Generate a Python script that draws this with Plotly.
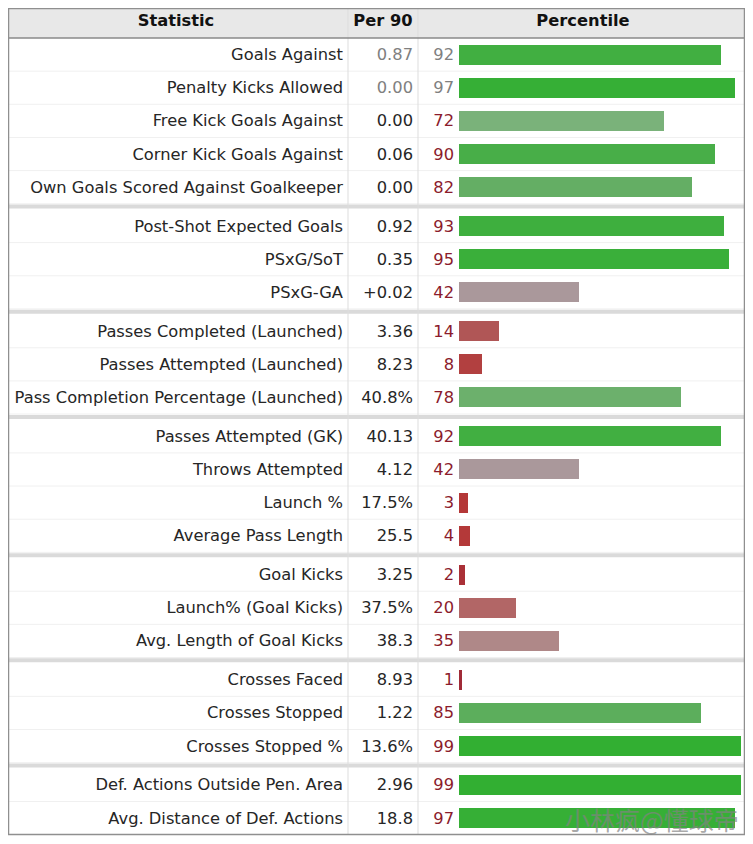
import plotly.graph_objects as go

# scouting report rows (goalkeeper), per 90 values and percentile ranks
stats = [
    "Goals Against", "Penalty Kicks Allowed", "Free Kick Goals Against",
    "Corner Kick Goals Against", "Own Goals Scored Against Goalkeeper",
    "Post-Shot Expected Goals", "PSxG/SoT", "PSxG-GA",
    "Passes Completed (Launched)", "Passes Attempted (Launched)",
    "Pass Completion Percentage (Launched)",
    "Passes Attempted (GK)", "Throws Attempted", "Launch %", "Average Pass Length",
    "Goal Kicks", "Launch% (Goal Kicks)", "Avg. Length of Goal Kicks",
    "Crosses Faced", "Crosses Stopped", "Crosses Stopped %",
    "Def. Actions Outside Pen. Area", "Avg. Distance of Def. Actions",
]
per90 = [
    "0.87", "0.00", "0.00", "0.06", "0.00",
    "0.92", "0.35", "+0.02",
    "3.36", "8.23", "40.8%",
    "40.13", "4.12", "17.5%", "25.5",
    "3.25", "37.5%", "38.3",
    "8.93", "1.22", "13.6%",
    "2.96", "18.8",
]
percentile = [
    92, 97, 72, 90, 82,
    93, 95, 42,
    14, 8, 78,
    92, 42, 3, 4,
    2, 20, 35,
    1, 85, 99,
    99, 97,
]
group_sizes = [5, 3, 3, 4, 3, 3, 2]
headers = ["Statistic", "Per 90", "Percentile"]

W, H = 753, 844
OFF = 8  # page body margin, so axis units are screen pixels
FONT = "DejaVu Sans"
FS = 16.3
top, head_h, row_h, gap = 8.5, 29.5, 33.15, 5.7
left, right = 8.5, 744.5
col1, col2 = 348, 418
bar_x0, bar_x100 = 459, 743.6
muted = {0, 1}  # rows shown greyed out

# row centre positions
ys = []
y = top + head_h
for g, n in enumerate(group_sizes):
    if g > 0:
        y += gap
    for i in range(n):
        ys.append(y + row_h / 2)
        y += row_h
bottom = min(y, H - OFF - 1.5)
ty = [v + 1.5 for v in ys]

shapes = []
# header background
shapes.append(dict(type="rect", xref="x", yref="y", x0=left, x1=right, y0=top, y1=top + head_h,
                   fillcolor="#e8e8e8", line=dict(width=0), layer="below"))
# thin row lines
for yc in ys[:-1]:
    shapes.append(dict(type="line", xref="x", yref="y", x0=left, x1=right,
                       y0=yc + row_h / 2, y1=yc + row_h / 2, line=dict(color="#f0f0f0", width=1), layer="below"))
# group separators
idx = 0
for n in group_sizes[:-1]:
    idx += n
    ysep = ys[idx - 1] + row_h / 2 + gap / 2
    shapes.append(dict(type="line", xref="x", yref="y", x0=left, x1=right, y0=ysep, y1=ysep,
                       line=dict(color="#dadada", width=4), layer="below"))
# column dividers
for cx in (col1, col2):
    shapes.append(dict(type="line", xref="x", yref="y", x0=cx, x1=cx, y0=top, y1=bottom,
                       line=dict(color="#dddddd", width=1), layer="below"))
# header bottom and outer border
shapes.append(dict(type="line", xref="x", yref="y", x0=left, x1=right, y0=top + head_h, y1=top + head_h,
                   line=dict(color="#8a8a8a", width=1.5)))
shapes.append(dict(type="rect", xref="x", yref="y", x0=left, x1=right, y0=top, y1=bottom,
                   line=dict(color="#8f8f8f", width=1.5)))

fig = go.Figure()

# percentile bars
fig.add_trace(go.Bar(
    x=percentile, y=ys, orientation="h", width=20, xaxis="x2", yaxis="y",
    marker=dict(
        color=percentile, cmin=0, cmax=100, line=dict(width=0),
        colorscale=[
            [0.00, "rgb(150,35,55)"],
            [0.03, "rgb(180,55,55)"],
            [0.08, "rgb(178,64,64)"],
            [0.14, "rgb(176,86,86)"],
            [0.20, "rgb(178,102,102)"],
            [0.35, "rgb(175,136,136)"],
            [0.42, "rgb(170,152,155)"],
            [0.55, "rgb(150,165,150)"],
            [0.72, "rgb(122,178,122)"],
            [0.78, "rgb(108,176,108)"],
            [0.82, "rgb(100,174,100)"],
            [0.85, "rgb(92,174,92)"],
            [0.90, "rgb(72,174,72)"],
            [0.93, "rgb(62,175,62)"],
            [1.00, "rgb(48,175,48)"],
        ],
    ),
    hoverinfo="skip", showlegend=False,
))

dark = "#262626"
grey = "#808080"
red = "#8b1c2c"

fig.add_trace(go.Scatter(
    x=[col1 - 5] * len(stats), y=ty, text=stats, mode="text", textposition="middle left",
    textfont=dict(family=FONT, size=FS, color=dark), hoverinfo="skip", showlegend=False,
))
fig.add_trace(go.Scatter(
    x=[col2 - 5] * len(per90), y=ty, text=per90, mode="text", textposition="middle left",
    textfont=dict(family=FONT, size=FS, color=[grey if i in muted else dark for i in range(len(per90))]),
    hoverinfo="skip", showlegend=False,
))
fig.add_trace(go.Scatter(
    x=[454] * len(percentile), y=ty, text=[str(p) for p in percentile], mode="text",
    textposition="middle left",
    textfont=dict(family=FONT, size=FS, color=[grey if i in muted else red for i in range(len(percentile))]),
    hoverinfo="skip", showlegend=False,
))
# headers
fig.add_trace(go.Scatter(
    x=[(4 + col1) / 2, (col1 + col2) / 2, (col2 + 748) / 2], y=[22] * 3,
    text=["<b>%s</b>" % h for h in headers], mode="text", textposition="middle center",
    textfont=dict(family=FONT, size=FS, color="#111111"), hoverinfo="skip", showlegend=False,
))

fig.add_annotation(
    text="小林疯@懂球帝", x=741, y=ys[-1] + 1, xref="x", yref="y", xanchor="right", yanchor="middle",
    showarrow=False, font=dict(family="Noto Sans CJK SC", size=25, color="rgba(130,130,130,0.7)"),
)

fig.update_layout(
    width=W - 2 * OFF, height=H - 2 * OFF, margin=dict(l=0, r=0, t=0, b=0),
    paper_bgcolor="white", plot_bgcolor="rgba(0,0,0,0)",
    xaxis=dict(range=[OFF, W - OFF], visible=False, fixedrange=True),
    xaxis2=dict(range=[0, 100], domain=[(bar_x0 - OFF) / (W - 2 * OFF), (bar_x100 - OFF) / (W - 2 * OFF)],
                anchor="y", visible=False, fixedrange=True),
    yaxis=dict(range=[H - OFF, OFF], visible=False, fixedrange=True),
    shapes=shapes, bargap=0,
)

fig.write_html("out.html")
